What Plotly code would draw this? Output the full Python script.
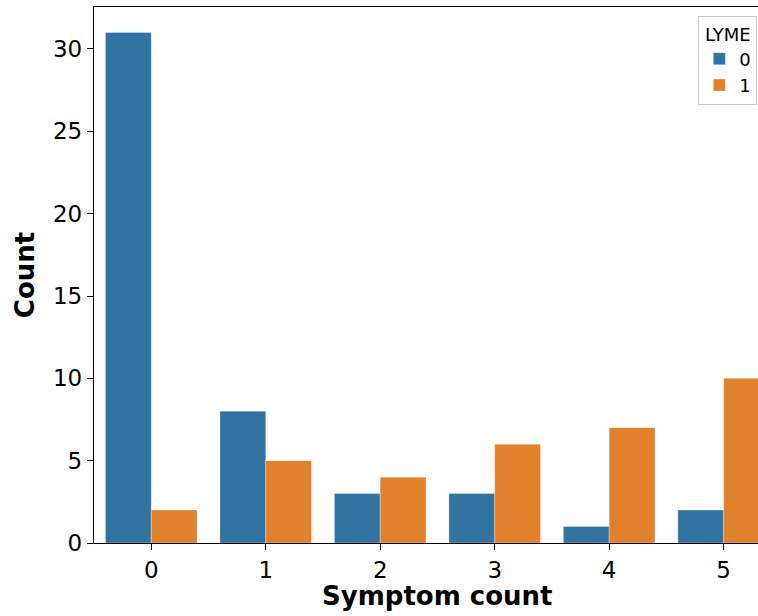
import plotly.graph_objects as go

categories = ["0", "1", "2", "3", "4", "5"]
lyme_0 = [31, 8, 3, 3, 1, 2]
lyme_1 = [2, 5, 4, 6, 7, 10]
y_ticks = [0, 5, 10, 15, 20, 25, 30]

FONT = "DejaVu Sans"
cat_idx = list(range(len(categories)))

fig = go.Figure()
fig.add_trace(go.Bar(x=cat_idx, y=lyme_0, name="0", marker=dict(color="#3274a1", line=dict(color="rgba(255,255,255,0.6)", width=0.5))))
fig.add_trace(go.Bar(x=cat_idx, y=lyme_1, name="1", marker=dict(color="#e1812c", line=dict(color="rgba(255,255,255,0.6)", width=0.5))))

fig.update_layout(
    width=758, height=616,
    margin=dict(l=94, r=0, t=7, b=73),
    plot_bgcolor="white", paper_bgcolor="white",
    barmode="group", bargap=0.2, bargroupgap=0,
    font=dict(family=FONT, size=23, color="black"),
    xaxis=dict(
        range=[-0.5, 5.30], tickmode="array", tickvals=cat_idx, ticktext=categories,
        showline=True, linecolor="black", linewidth=1.3, mirror=True,
        ticks="outside", ticklen=6, tickwidth=1.3, tickcolor="black",
        showgrid=False, zeroline=False, tickfont=dict(size=23),
    ),
    yaxis=dict(
        range=[0, 32.55], tickvals=y_ticks,
        showline=True, linecolor="black", linewidth=1.3,
        ticks="outside", ticklen=6, tickwidth=1.3, tickcolor="black",
        showgrid=False, zeroline=False, tickfont=dict(size=23),
        title=dict(text="<b>Count</b>", font=dict(size=26), standoff=10),
    ),
    legend=dict(
        title=dict(text="LYME", font=dict(size=18), side="top center"),
        x=0.999, y=0.983, xanchor="right", yanchor="top",
        bgcolor="rgba(255,255,255,0.8)", bordercolor="#cccccc", borderwidth=1,
        font=dict(size=18),
    ),
    annotations=[dict(
        text="<b>Symptom count</b>", xref="x", x=2.5, yref="paper", y=-0.067,
        xanchor="center", yanchor="top", showarrow=False, font=dict(size=26),
    )],
)

fig.write_html(
    "out.html",
    config={"displayModeBar": False},
    post_script="document.body.style.margin='0';document.body.style.overflow='hidden';",
)
